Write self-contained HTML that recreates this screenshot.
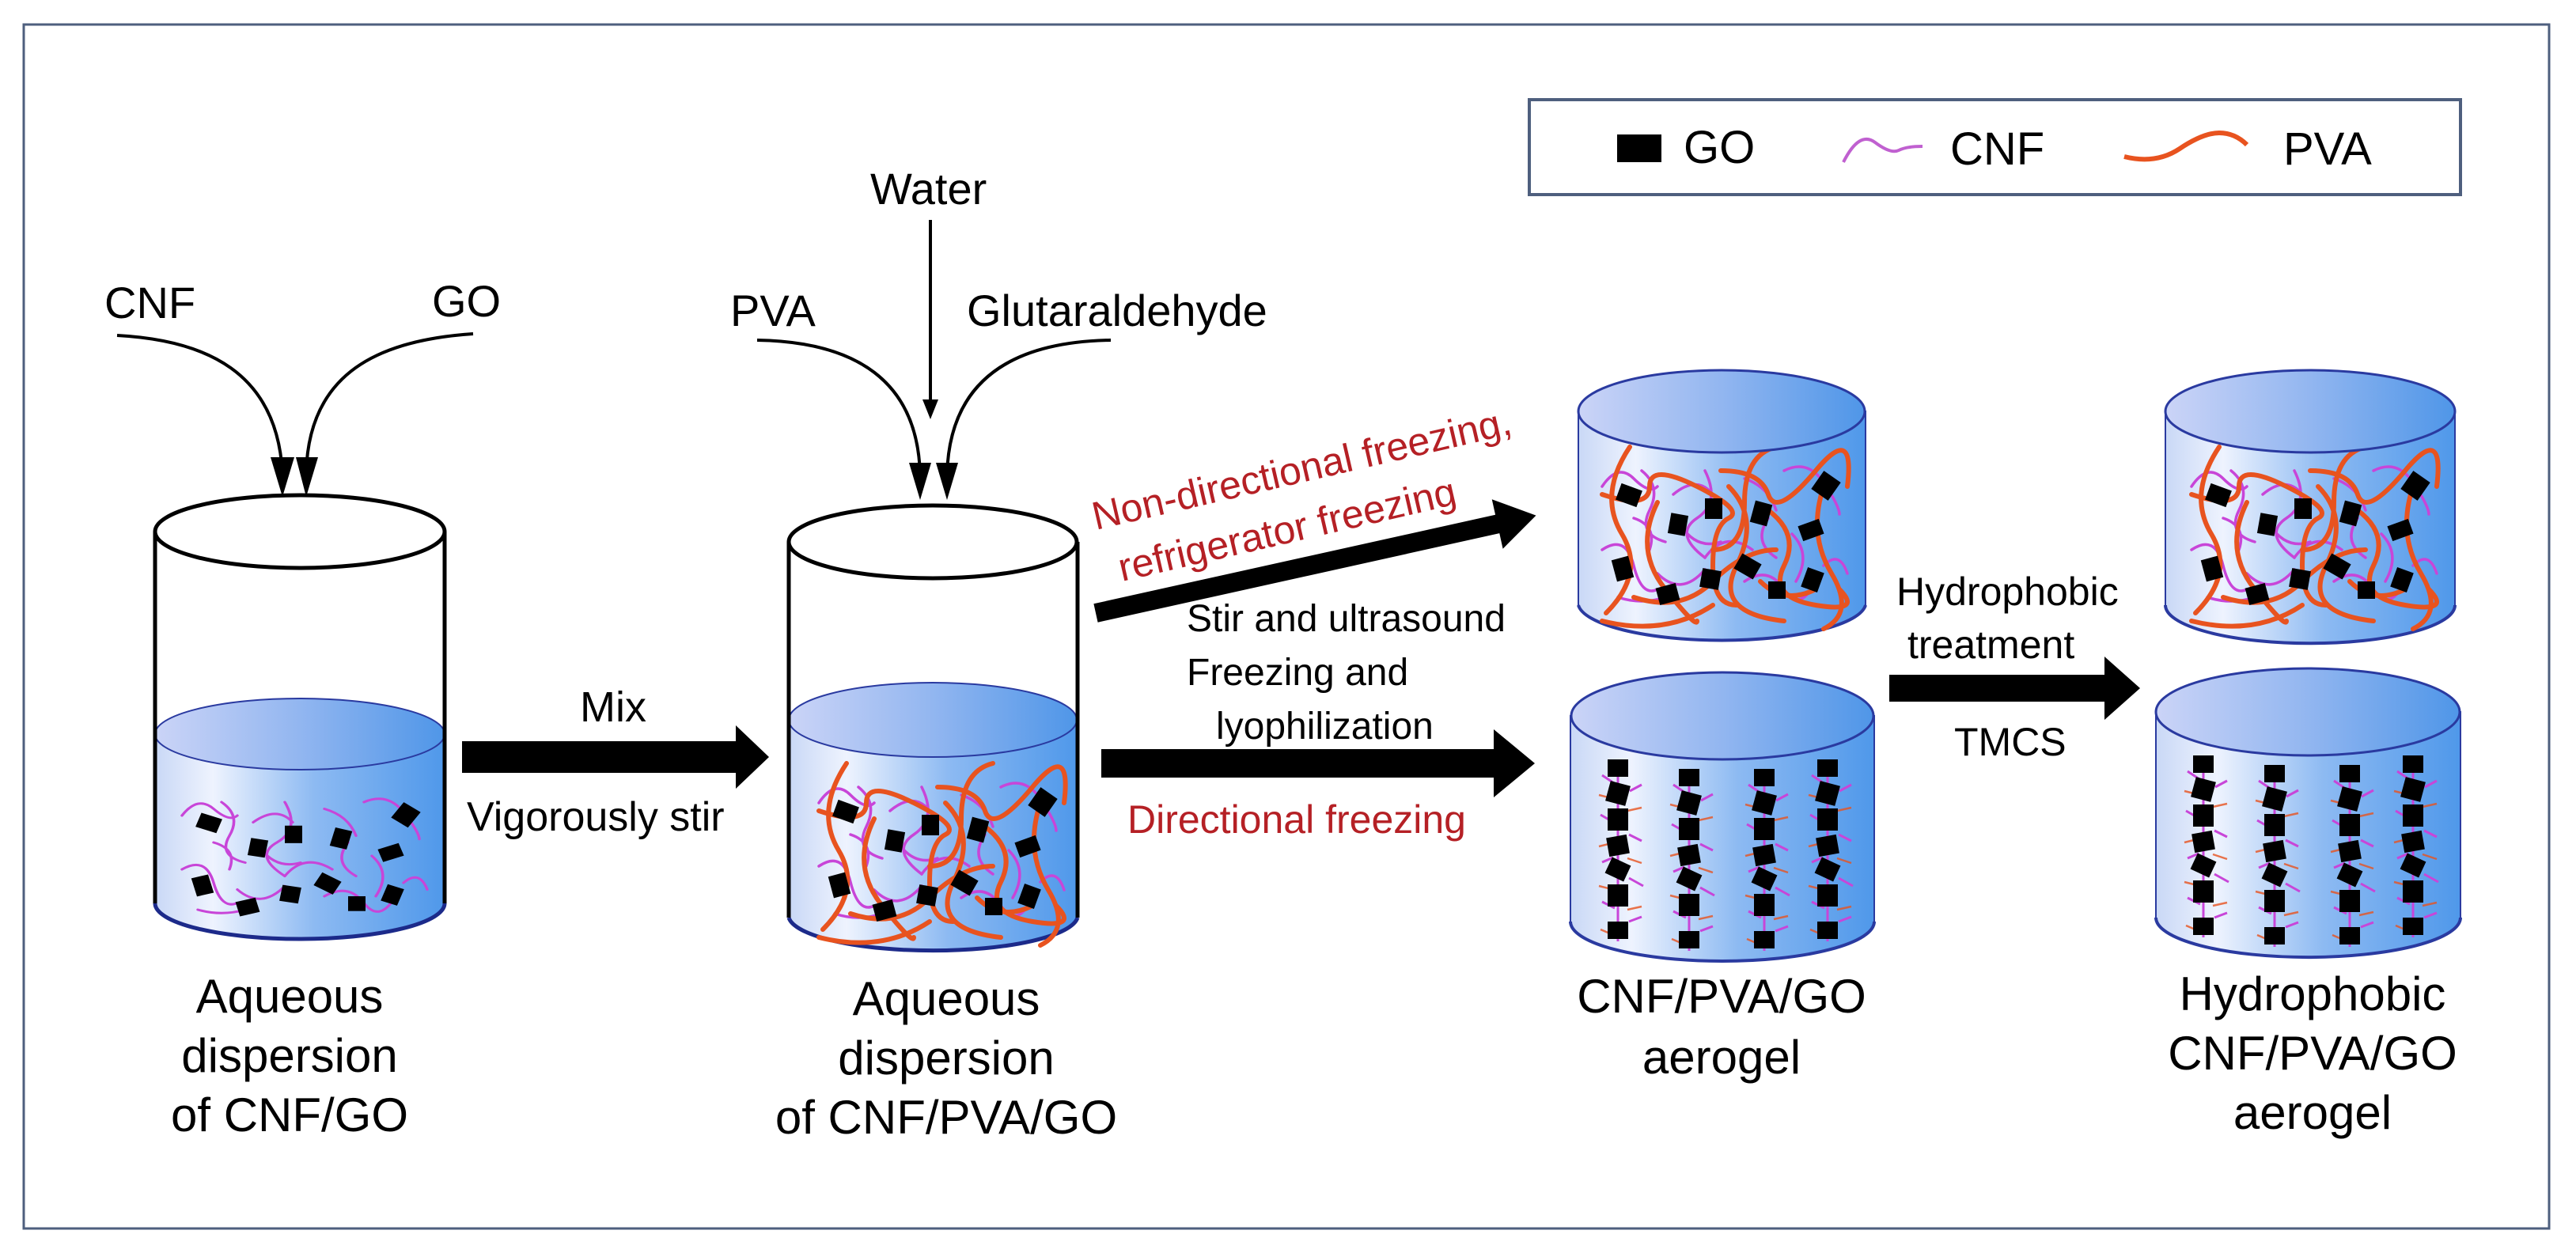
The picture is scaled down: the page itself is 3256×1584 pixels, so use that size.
<!DOCTYPE html>
<html><head><meta charset="utf-8"><style>
html,body{margin:0;padding:0;background:#fff;}
svg{display:block;}
text{font-family:"Liberation Sans",Arial,sans-serif;fill:#000;}
</style></head><body>
<svg width="3256" height="1584" viewBox="0 0 3256 1584" xmlns="http://www.w3.org/2000/svg">
<defs>
<linearGradient id="body" x1="0" x2="1" y1="0" y2="0">
<stop offset="0" stop-color="#c9d8f6"/><stop offset="0.2" stop-color="#eef3fe"/><stop offset="0.55" stop-color="#8dbaf2"/><stop offset="1" stop-color="#4f98ea"/></linearGradient>
<linearGradient id="top" x1="0" x2="1" y1="0" y2="0">
<stop offset="0" stop-color="#cbd4f7"/><stop offset="0.5" stop-color="#92b6f0"/><stop offset="1" stop-color="#4f96e8"/></linearGradient>
<g id="cnf" fill="none" stroke="#c845d8" stroke-width="3.5" stroke-linecap="round">
<path d="M20,60 q20,-30 40,-10 t30,10"/><path d="M70,40 q25,20 10,50 t20,40"/><path d="M110,70 q30,-25 50,0"/><path d="M150,40 q20,40 -10,60 t10,50"/><path d="M200,50 q30,10 40,40"/><path d="M250,40 q30,-15 50,15 t20,40"/><path d="M20,140 q30,-20 40,20 t30,30"/><path d="M90,170 q30,30 60,-5"/><path d="M150,150 q25,-35 60,-10"/><path d="M200,180 q30,-20 50,10 t40,-10"/><path d="M260,120 q25,25 5,60"/><path d="M60,100 q30,10 20,40"/><path d="M120,110 q20,30 50,20"/><path d="M230,100 q-20,30 10,50"/><path d="M300,160 q20,-20 30,10"/><path d="M40,200 q30,10 60,0"/>
</g>
<g id="go" fill="#000">
<rect x="40" y="60" width="28" height="22" transform="rotate(20 54 71)"/><rect x="105" y="95" width="22" height="26" transform="rotate(10 116 108)"/><rect x="150" y="75" width="22" height="26"/><rect x="210" y="80" width="22" height="28" transform="rotate(15 221 94)"/><rect x="290" y="45" width="26" height="28" transform="rotate(35 303 59)"/><rect x="270" y="105" width="28" height="20" transform="rotate(-20 284 115)"/><rect x="35" y="150" width="22" height="28" transform="rotate(-15 46 164)"/><rect x="145" y="165" width="24" height="24" transform="rotate(10 157 177)"/><rect x="190" y="150" width="28" height="22" transform="rotate(30 204 161)"/><rect x="90" y="185" width="26" height="22" transform="rotate(-15 103 196)"/><rect x="275" y="165" width="22" height="26" transform="rotate(20 286 178)"/><rect x="230" y="180" width="22" height="22"/>
</g>
<g id="pva" fill="none" stroke="#e8531f" stroke-width="6" stroke-linecap="round">
<path d="M55,10 q-40,60 -10,110 t-20,100"/><path d="M20,70 q60,20 60,-10 t60,0 t40,40 t-20,60 t30,50"/><path d="M90,80 q-30,60 10,110 t40,40"/><path d="M240,10 q-40,10 -40,70 t-40,60"/><path d="M170,40 q50,0 60,30 t60,-30 t40,20"/><path d="M180,60 q40,40 10,100 t60,70"/><path d="M230,90 q40,30 20,70 t40,50 t30,-20"/><path d="M300,60 q-20,60 10,110 t-10,70"/><path d="M60,200 q60,20 100,-20 t80,-40"/><path d="M20,230 q80,20 140,-20"/><path d="M220,180 q30,30 70,10"/>
</g>
<g id="mixA"><use href="#cnf"/><use href="#go"/></g>
<g id="mixB"><use href="#cnf"/><use href="#pva"/><use href="#go"/></g>
<g id="col">
<g stroke="#c845d8" stroke-width="3" fill="none"><path d="M0,0 V230"/><path d="M-20,20 l15,10 M15,40 l15,-8 M-22,70 l14,8 M14,95 l16,8 M-20,130 l14,-6 M14,150 l18,10 M-20,180 l16,8 M14,205 l16,-6"/></g>
<g stroke="#e8531f" stroke-width="2.5" opacity="0.8"><path d="M-24,45 l16,4 M12,65 l18,-4 M-24,110 l16,-4 M12,125 l18,6 M-24,160 l16,4 M12,190 l18,-4 M-22,215 l14,6"/></g>
<g fill="#000"><rect x="-13" y="0" width="26" height="22"/><rect x="-13" y="30" width="26" height="26" transform="rotate(15 0 43)"/><rect x="-13" y="62" width="26" height="28"/><rect x="-13" y="97" width="26" height="24" transform="rotate(-10 0 109)"/><rect x="-13" y="128" width="26" height="22" transform="rotate(25 0 139)"/><rect x="-13" y="158" width="26" height="28"/><rect x="-13" y="205" width="26" height="22"/></g>
</g>
<g id="aligned"><use href="#col" x="60" y="0"/><use href="#col" x="150" y="12"/><use href="#col" x="245" y="12"/><use href="#col" x="325" y="0"/></g>
</defs>

<rect x="30" y="31" width="3192" height="1522" fill="none" stroke="#4e5f7e" stroke-width="3"/>

<!-- legend -->
<rect x="1933" y="126" width="1177" height="120" fill="none" stroke="#4e5f7e" stroke-width="4"/>
<rect x="2044" y="170" width="56" height="35" fill="#000"/>
<text x="2128" y="206" font-size="58">GO</text>
<path d="M2330,205 q20,-40 40,-25 t30,10 t30,-5" fill="none" stroke="#c060d0" stroke-width="4"/>
<text x="2465" y="208" font-size="58">CNF</text>
<path d="M2685,198 q40,10 70,-10 t50,-20 t35,15" fill="none" stroke="#e8531f" stroke-width="6"/>
<text x="2886" y="208" font-size="58">PVA</text>

<!-- inputs beaker1 -->
<text x="132" y="402" font-size="56">CNF</text>
<text x="546" y="400" font-size="56">GO</text>
<path d="M148,424 C260,430 350,470 357,598" fill="none" stroke="#000" stroke-width="4"/>
<path d="M342,578 L357,628 L372,578 Z" fill="#000"/>
<path d="M598,422 C480,430 390,470 387,598" fill="none" stroke="#000" stroke-width="4"/>
<path d="M374,578 L387,628 L402,578 Z" fill="#000"/>

<!-- inputs beaker2 -->
<text x="923" y="412" font-size="56">PVA</text>
<text x="1100" y="258" font-size="56">Water</text>
<text x="1222" y="412" font-size="56">Glutaraldehyde</text>
<path d="M1176,278 V510" stroke="#000" stroke-width="4"/>
<path d="M1166,505 L1176,530 L1186,505 Z" fill="#000"/>
<path d="M957,430 C1080,432 1160,480 1163,600" fill="none" stroke="#000" stroke-width="4"/>
<path d="M1149,585 L1163,632 L1177,585 Z" fill="#000"/>
<path d="M1404,430 C1280,432 1200,480 1197,600" fill="none" stroke="#000" stroke-width="4"/>
<path d="M1183,585 L1197,632 L1211,585 Z" fill="#000"/>

<!-- beaker 1 -->
<path d="M196,928 V1142 A183,45 0 0 0 562,1142 V928 Z" fill="url(#body)"/>
<path d="M196,1142 A183,45 0 0 0 562,1142" fill="none" stroke="#1c2a8a" stroke-width="5"/>
<ellipse cx="379" cy="928" rx="183" ry="45" fill="url(#top)" stroke="#2a3aa0" stroke-width="2"/>
<use href="#mixA" transform="translate(210,980) scale(1,0.85)"/>
<path d="M196,672 V1142 M562,672 V1142" stroke="#000" stroke-width="5"/>
<ellipse cx="379" cy="672" rx="183" ry="46" fill="#fff" stroke="#000" stroke-width="5"/>

<!-- beaker 2 -->
<path d="M997,910 V1160 A183,45 0 0 0 1362,1160 V910 Z" fill="url(#body)"/>
<path d="M997,1160 A183,45 0 0 0 1362,1160" fill="none" stroke="#1c2a8a" stroke-width="5"/>
<ellipse cx="1179" cy="910" rx="182" ry="47" fill="url(#top)" stroke="#2a3aa0" stroke-width="2"/>
<use href="#mixB" x="1015" y="955"/>
<path d="M997,685 V1160 M1362,685 V1160" stroke="#000" stroke-width="5"/>
<ellipse cx="1179" cy="685" rx="182" ry="46" fill="#fff" stroke="#000" stroke-width="5"/>

<!-- mix arrow -->
<path d="M584,937 H930 V917 L972,957 L930,997 V977 H584 Z" fill="#000"/>
<text x="733" y="912" font-size="54">Mix</text>
<text x="590" y="1050" font-size="52">Vigorously stir</text>

<!-- non-directional arrow -->
<g transform="translate(1385,775) rotate(-12.5)">
<path d="M0,-12 H520 V-32 L570,0 L520,32 V12 H0 Z" fill="#000"/>
</g>
<text transform="translate(1385,670) rotate(-13)" font-size="50" style="fill:#b52025">Non-directional freezing,</text>
<text transform="translate(1418,735) rotate(-13)" font-size="50" style="fill:#b52025">refrigerator freezing</text>
<text x="1500" y="798" font-size="48">Stir and ultrasound</text>
<text x="1500" y="866" font-size="48">Freezing and</text>
<text x="1537" y="934" font-size="48">lyophilization</text>
<!-- directional arrow -->
<path d="M1392,947 H1888 V922 L1940,965 L1888,1008 V983 H1392 Z" fill="#000"/>
<text x="1425" y="1053" font-size="50" style="fill:#b52025">Directional freezing</text>

<!-- cylinder 3 -->
<path d="M1995,520 V765 A182,48 0 0 0 2358,765 V520 Z" fill="url(#body)" stroke="#2a3aa0" stroke-width="2"/>
<path d="M1995,765 A182,48 0 0 0 2358,765" fill="none" stroke="#2a3aa0" stroke-width="4"/>
<use href="#mixB" x="2005" y="555"/>
<ellipse cx="2176" cy="520" rx="181" ry="52" fill="url(#top)" stroke="#2a3aa0" stroke-width="3"/>

<!-- cylinder 4 -->
<path d="M1985,905 V1165 A192,50 0 0 0 2369,1165 V905 Z" fill="url(#body)" stroke="#2a3aa0" stroke-width="2"/>
<path d="M1985,1165 A192,50 0 0 0 2369,1165" fill="none" stroke="#2a3aa0" stroke-width="4"/>
<use href="#aligned" x="1985" y="960"/>
<ellipse cx="2177" cy="905" rx="191" ry="55" fill="url(#top)" stroke="#2a3aa0" stroke-width="3"/>

<!-- hydrophobic arrow -->
<path d="M2388,853 H2660 V830 L2705,870 L2660,910 V887 H2388 Z" fill="#000"/>
<text x="2397" y="765" font-size="50">Hydrophobic</text>
<text x="2411" y="832" font-size="50">treatment</text>
<text x="2470" y="955" font-size="50">TMCS</text>

<!-- cylinder 5 -->
<path d="M2737,520 V765 A182,48 0 0 0 3103,765 V520 Z" fill="url(#body)" stroke="#2a3aa0" stroke-width="2"/>
<path d="M2737,765 A182,48 0 0 0 3103,765" fill="none" stroke="#2a3aa0" stroke-width="4"/>
<use href="#mixB" x="2750" y="555"/>
<ellipse cx="2920" cy="520" rx="183" ry="52" fill="url(#top)" stroke="#2a3aa0" stroke-width="3"/>

<!-- cylinder 6 -->
<path d="M2725,900 V1160 A192,50 0 0 0 3110,1160 V900 Z" fill="url(#body)" stroke="#2a3aa0" stroke-width="2"/>
<path d="M2725,1160 A192,50 0 0 0 3110,1160" fill="none" stroke="#2a3aa0" stroke-width="4"/>
<use href="#aligned" x="2725" y="955"/>
<ellipse cx="2917" cy="900" rx="192" ry="55" fill="url(#top)" stroke="#2a3aa0" stroke-width="3"/>

<!-- labels -->
<g font-size="60" text-anchor="middle">
<text x="366" y="1280">Aqueous</text>
<text x="366" y="1355">dispersion</text>
<text x="366" y="1430">of CNF/GO</text>
<text x="1196" y="1283">Aqueous</text>
<text x="1196" y="1358">dispersion</text>
<text x="1196" y="1433">of CNF/PVA/GO</text>
<text x="2176" y="1280">CNF/PVA/GO</text>
<text x="2176" y="1357">aerogel</text>
<text x="2923" y="1277">Hydrophobic</text>
<text x="2923" y="1352">CNF/PVA/GO</text>
<text x="2923" y="1427">aerogel</text>
</g>
</svg>
</body></html>
